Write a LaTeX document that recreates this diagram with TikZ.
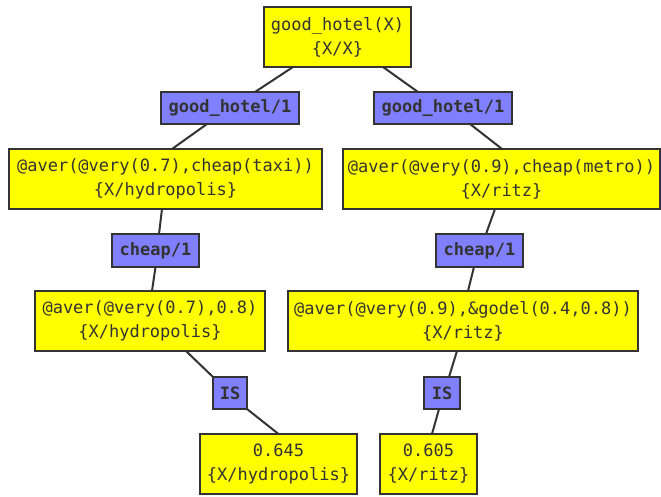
\documentclass[tikz,border=0pt]{standalone}
\usepackage{fontspec}
\setmonofont{DejaVu Sans Mono}
\definecolor{goalfill}{RGB}{255,255,0}
\definecolor{rulefill}{RGB}{128,128,255}
\begin{document}
\begin{tikzpicture}[x=1pt,y=1pt,
  every node/.style={inner sep=0pt, outer sep=0pt, line width=2pt, draw=black!80,
    text=black!80, font=\ttfamily\fontsize{17}{24}\selectfont, align=center},
  goal/.style={fill=goalfill, minimum height=60pt},
  rulebox/.style={fill=rulefill, minimum height=32pt,
    font=\ttfamily\bfseries\fontsize{17}{24}\selectfont},
  edge/.style={line width=2pt, draw=black!80}]
\useasboundingbox (0,-497) rectangle (661,0);

% goals
\node[goal, minimum width=147pt] (top) at (337.5,-37) {good\_hotel(X)\\\{X/X\}};
\node[goal, minimum width=313pt] (aL) at (165.5,-179) {@aver(@very(0.7),cheap(taxi))\\\{X/hydropolis\}};
\node[goal, minimum width=317pt] (aR) at (501.5,-179) {@aver(@very(0.9),cheap(metro))\\\{X/ritz\}};
\node[goal, minimum width=230pt] (bL) at (150,-321) {@aver(@very(0.7),0.8)\\\{X/hydropolis\}};
\node[goal, minimum width=350pt] (bR) at (463,-321) {@aver(@very(0.9),\&godel(0.4,0.8))\\\{X/ritz\}};
\node[goal, minimum width=157pt] (cL) at (278.5,-464) {0.645\\\{X/hydropolis\}};
\node[goal, minimum width=97pt] (cR) at (428.5,-464) {0.605\\\{X/ritz\}};

% rule labels
\node[rulebox, minimum width=138pt] (gL) at (230,-108) {good\_hotel/1};
\node[rulebox, minimum width=138pt] (gR) at (443,-108) {good\_hotel/1};
\node[rulebox, minimum width=87pt, minimum height=33pt] (hL) at (155.5,-250.5) {cheap/1};
\node[rulebox, minimum width=87pt, minimum height=33pt] (hR) at (479.5,-250.5) {cheap/1};
\node[rulebox, minimum width=34pt] (iL) at (230,-393) {IS};
\node[rulebox, minimum width=36pt] (iR) at (442,-393) {IS};

% connectors
\draw[edge] ([xshift=-44.5pt]top.south) -- ([xshift=25pt]gL.north);
\draw[edge] ([xshift=45.5pt]top.south) -- ([xshift=-25pt]gR.north);
\draw[edge] ([xshift=-23pt]gL.south) -- ([xshift=6.5pt]aL.north);
\draw[edge] ([xshift=27pt]gR.south) -- ([xshift=0.5pt]aR.north);
\draw[edge] ([xshift=-3.5pt]aL.south) -- ([xshift=3.5pt]hL.north);
\draw[edge] ([xshift=-6.5pt]aR.south) -- ([xshift=6.5pt]hR.north);
\draw[edge] (hL.south) -- ([xshift=2pt]bL.north);
\draw[edge] ([xshift=-5.5pt]hR.south) -- ([xshift=5pt]bR.north);
\draw[edge] ([xshift=36pt]bL.south) -- (iL.north west);
\draw[edge] (iL.south east) -- (cL.north);
\draw[edge] ([xshift=-6pt]bR.south) -- ([xshift=7pt]iR.north);
\draw[edge] ([xshift=-3pt]iR.south) -- ([xshift=3.5pt]cR.north);
\end{tikzpicture}
\end{document}
